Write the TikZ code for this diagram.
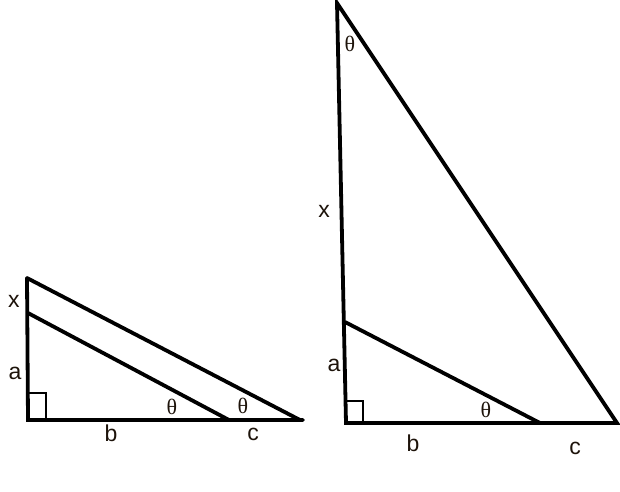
\documentclass[tikz,border=0pt]{standalone}
\usepackage{fontspec}
\setmainfont{Liberation Sans}
\newfontfamily\thetafont{Liberation Serif}
\begin{document}
\begin{tikzpicture}[x=1pt,y=-1pt,
  edge/.style={line width=3.8pt, line cap=round, line join=miter},
  thin edge/.style={line width=1.6pt},
  lbl/.style={font=\fontsize{23}{23}\selectfont, inner sep=0pt, text=black!85!brown},
  ang/.style={font=\thetafont\fontsize{22}{22}\selectfont, inner sep=0pt, text=black!85!brown}]
\useasboundingbox (0,0) rectangle (620,491);
% left triangle
\coordinate (LA) at (28,420);
\coordinate (LT) at (27,278);
\coordinate (LI) at (28,313);
\coordinate (LM) at (229,420);
\coordinate (LR) at (300,420);
\coordinate (LE) at (303,420);
\draw[edge] (LT) -- (LA) -- (LE);
\draw[edge] (LT) -- (LR);
\draw[edge] (LI) -- (LM);
\draw[thin edge] (29,393) -- (46,393) -- (46,419);
\node[lbl] (lx) at (14,301) {x};
\node[lbl] (la) at (15,373) {a};
\node[lbl] (lb) at (111,433) {b};
\node[lbl] (lc) at (253,434) {c};
\node[ang] (lt1) at (172,407) {θ};
\node[ang] (lt2) at (243,406) {θ};
% right triangle
\coordinate (RA) at (346,423);
\coordinate (RT) at (337,3);
\coordinate (RI) at (345,322);
\coordinate (RM) at (540,423);
\coordinate (RR) at (617,423);
\draw[edge] (RT) -- (RA) -- (RR) -- cycle;
\draw[edge] (RI) -- (RM);
\draw[thin edge] (347,401) -- (363,401) -- (363,422);
\node[lbl] (rx) at (324,211) {x};
\node[lbl] (ra) at (334,365) {a};
\node[lbl] (rb) at (413,443) {b};
\node[lbl] (rc) at (575,448) {c};
\node[ang] (rt1) at (350,44) {θ};
\node[ang] (rt2) at (486,410) {θ};
\end{tikzpicture}
\end{document}
